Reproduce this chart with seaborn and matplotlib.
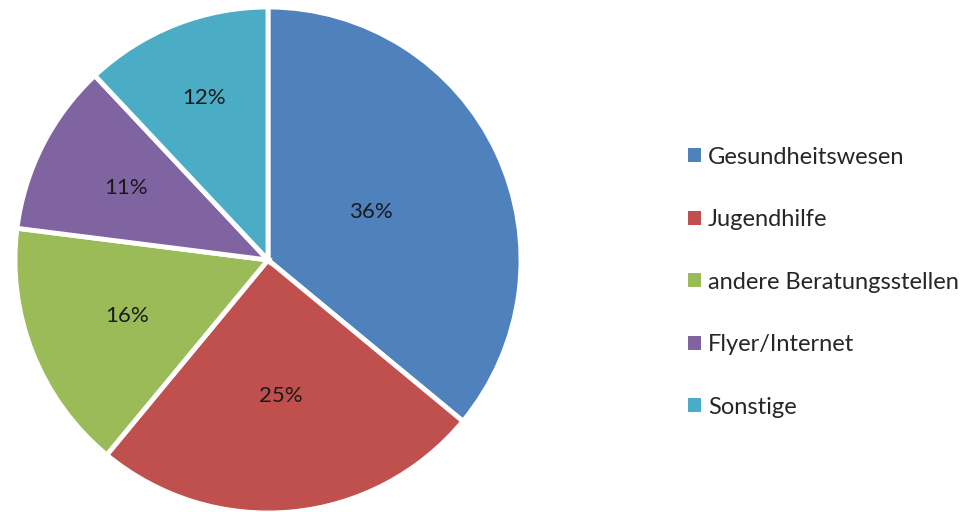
import matplotlib
matplotlib.use("Agg")
import matplotlib.pyplot as plt
from matplotlib.patches import Patch
import seaborn as sns

# data
categories = ["Gesundheitswesen", "Jugendhilfe", "andere Beratungsstellen",
              "Flyer/Internet", "Sonstige"]
shares = [36, 25, 16, 11, 12]
colors = sns.color_palette(["#4F81BD", "#C0504D", "#9BBB59", "#8064A2", "#4BACC6"])
# how far out each percent label sits (fraction of radius), like Excel does it
label_dist = [0.45, 0.54, 0.6, 0.63, 0.69]

sns.set_style("white")
plt.rcParams['font.family'] = ['Lato', 'DejaVu Sans']

fig = plt.figure(figsize=(9.73, 5.12), dpi=100)
ax = fig.add_axes([15 / 973, (512 - 260 - 253) / 512, 506 / 973, 506 / 512])

wedges, texts, autotexts = ax.pie(
    shares, colors=colors, startangle=90, counterclock=False,
    autopct=lambda p: f"{p:.0f}%", pctdistance=1.0,
    wedgeprops=dict(edgecolor="white", linewidth=3.5),
    textprops=dict(fontsize=16, color="#1a1a1a"))
for t, d in zip(autotexts, label_dist):
    x, y = t.get_position()
    t.set_position((x * d, y * d))
ax.set_aspect("equal")
ax.set_xlim(-1.0, 1.0)
ax.set_ylim(-1.0, 1.0)

# plain square patches for the legend (the wedges carry a white edge)
handles = [Patch(facecolor=c, edgecolor="none") for c in colors]
leg = fig.legend(handles, categories, loc="center left",
                 bbox_to_anchor=(688 / 973, 0.449), frameon=False,
                 borderpad=0, borderaxespad=0,
                 fontsize=17, handlelength=0.55, handleheight=0.55,
                 handletextpad=0.3, labelspacing=1.76)

fig.savefig("out.png", dpi=100)
